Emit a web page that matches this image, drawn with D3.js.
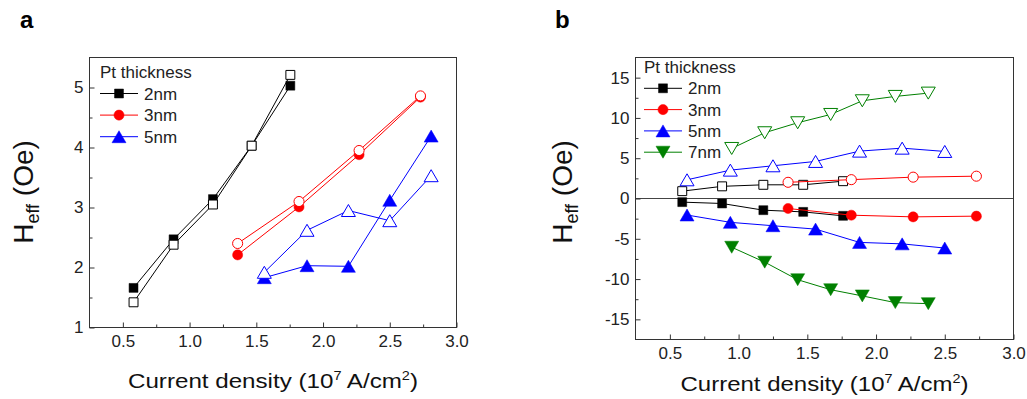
<!DOCTYPE html>
<html>
<head>
<meta charset="utf-8">
<script src="https://cdn.jsdelivr.net/npm/d3@7"></script>
<style>
  html, body { margin: 0; padding: 0; background: #fff; }
  svg { display: block; font-family: "Liberation Sans", Arial, sans-serif; }
</style>
</head>
<body>
<svg id="chart" width="1027" height="399"></svg>
<script>
// ---------- Panel a data ----------
const aX2 = [0.58, 0.88, 1.175, 1.465, 1.755];
const a2Fill = [1.66, 2.47, 3.14, 4.03, 5.03];
const a2Open = [1.42, 2.38, 3.05, 4.03, 5.21];
const aX3 = [1.36, 1.82, 2.27, 2.73];
const a3Fill = [2.21, 3.01, 3.88, 4.84];
const a3Open = [2.40, 3.10, 3.95, 4.86];
const aX5 = [1.56, 1.88, 2.19, 2.50, 2.81];
const a5Fill = [1.83, 2.03, 2.02, 3.12, 4.19];
const a5Open = [1.92, 2.62, 2.95, 2.78, 3.53];

// ---------- Panel b data ----------
const bX2 = [0.59, 0.88, 1.18, 1.47, 1.76];
const b2Fill = [-0.45, -0.62, -1.45, -1.66, -2.15];
const b2Open = [0.91, 1.51, 1.70, 1.70, 2.15];
const bX3 = [1.36, 1.82, 2.27, 2.73];
const b3Fill = [-1.24, -2.07, -2.28, -2.19];
const b3Open = [2.01, 2.34, 2.65, 2.77];
const bX5 = [0.625, 0.94, 1.25, 1.56, 1.88, 2.19, 2.50];
const b5Fill = [-2.05, -2.96, -3.38, -3.80, -5.45, -5.63, -6.15];
const b5Open = [2.32, 3.52, 4.06, 4.60, 5.88, 6.25, 5.84];
const bX7 = [0.95, 1.19, 1.43, 1.67, 1.90, 2.14, 2.38];
const b7Fill = [-6.05, -7.90, -10.08, -11.32, -12.09, -12.92, -13.05];
const b7Open = [6.21, 8.16, 9.40, 10.43, 12.13, 12.67, 13.08];

// ---------- tick labels ----------
const xTicks = [0.5, 1.0, 1.5, 2.0, 2.5, 3.0];
const xMinor = [0.75, 1.25, 1.75, 2.25, 2.75];
const aYTicks = [1, 2, 3, 4, 5];
const aYMinor = [1.5, 2.5, 3.5, 4.5];
const bYTicks = [-15, -10, -5, 0, 5, 10, 15];
const bYMinor = [-12.5, -7.5, -2.5, 2.5, 7.5, 12.5];
const aLegend = ["2nm", "3nm", "5nm"];
const bLegend = ["2nm", "3nm", "5nm", "7nm"];

const COL = { k: "#000000", r: "#ff0000", b: "#0000ff", g: "#008000" };
const FONT = '"Liberation Sans", Arial, sans-serif';

// custom triangles centred on their bounding box
const triUp = { draw(ctx, size) { const s = Math.sqrt(size); const w = s * 0.7, h = s * 0.6;
  ctx.moveTo(0, -h); ctx.lineTo(w, h); ctx.lineTo(-w, h); ctx.closePath(); } };
const triDown = { draw(ctx, size) { const s = Math.sqrt(size); const w = s * 0.7, h = s * 0.6;
  ctx.moveTo(0, h); ctx.lineTo(w, -h); ctx.lineTo(-w, -h); ctx.closePath(); } };

const SHAPES = {
  square: { type: d3.symbolSquare, size: 80 },
  circle: { type: d3.symbolCircle, size: 80 },
  up: { type: triUp, size: 100 },
  down: { type: triDown, size: 100 }
};

const svg = d3.select("#chart");

function panel(cfg) {
  const g = svg.append("g");
  const x = d3.scaleLinear().domain([0.25, 3.0]).range([cfg.x0, cfg.x1]);
  const y = d3.scaleLinear().domain(cfg.yDomain).range([cfg.y1, cfg.y0]);

  // zero line
  if (cfg.zeroLine) {
    g.append("line").attr("x1", cfg.x0).attr("x2", cfg.x1)
      .attr("y1", y(0)).attr("y2", y(0))
      .attr("stroke", "#444").attr("stroke-width", 1);
  }

  // axes
  const styleAxis = sel => {
    sel.select(".domain").remove();
    sel.selectAll("line").attr("stroke", "#333");
    sel.selectAll("text").attr("font-family", FONT).attr("font-size", 17).attr("fill", "#222");
  };
  g.append("g").attr("transform", `translate(0,${cfg.y1})`)
    .call(d3.axisBottom(x).tickValues(xTicks).tickSize(-5).tickPadding(7).tickFormat(d3.format(".1f")))
    .call(styleAxis);
  g.append("g").attr("transform", `translate(0,${cfg.y1})`)
    .call(d3.axisBottom(x).tickValues(xMinor).tickSize(-3).tickFormat(""))
    .call(styleAxis);
  g.append("g").attr("transform", `translate(${cfg.x0},0)`)
    .call(d3.axisLeft(y).tickValues(cfg.yTicks).tickSize(-5).tickPadding(6).tickFormat(d => String(d)))
    .call(styleAxis);
  g.append("g").attr("transform", `translate(${cfg.x0},0)`)
    .call(d3.axisLeft(y).tickValues(cfg.yMinor).tickSize(-3).tickFormat(""))
    .call(styleAxis);

  // frame
  g.append("rect").attr("x", cfg.x0).attr("y", cfg.y0)
    .attr("width", cfg.x1 - cfg.x0).attr("height", cfg.y1 - cfg.y0)
    .attr("fill", "none").attr("stroke", "#333").attr("stroke-width", 1);

  // series
  const line = d3.line().x(d => x(d[0])).y(d => y(d[1]));
  cfg.series.forEach(s => {
    const pts = s.xs.map((xv, i) => [xv, s.ys[i]]);
    g.append("path").datum(pts).attr("d", line)
      .attr("fill", "none").attr("stroke", s.color).attr("stroke-width", 1);
    const sh = SHAPES[s.shape];
    g.selectAll(null).data(pts).enter().append("path")
      .attr("transform", d => `translate(${x(d[0])},${y(d[1])})`)
      .attr("d", d3.symbol().type(sh.type).size(sh.size))
      .attr("fill", s.open ? "#fff" : s.color)
      .attr("stroke", s.color).attr("stroke-width", s.open ? 1 : 0.5);
  });

  // legend
  const L = cfg.legend;
  g.append("text").attr("x", L.x).attr("y", L.titleY).attr("dy", "0.35em")
    .attr("font-size", 17).attr("fill", "#222").text("Pt thickness");
  L.items.forEach((it, i) => {
    const yy = L.rowY + i * L.step;
    g.append("line").attr("x1", L.x).attr("x2", L.x + 38).attr("y1", yy).attr("y2", yy)
      .attr("stroke", it.color).attr("stroke-width", 1);
    const sh = SHAPES[it.shape];
    g.append("path").attr("transform", `translate(${L.x + 19},${yy})`)
      .attr("d", d3.symbol().type(sh.type).size(sh.size))
      .attr("fill", it.color).attr("stroke", it.color).attr("stroke-width", 0.5);
    g.append("text").attr("x", L.x + 44).attr("y", yy).attr("dy", "0.36em")
      .attr("font-size", 17).attr("fill", "#222").text(it.label);
  });

  // x title
  const xt = g.append("text").attr("x", (cfg.x0 + cfg.x1) / 2).attr("y", cfg.xTitleY)
    .attr("text-anchor", "middle").attr("font-size", 20).attr("fill", "#111")
    .attr("textLength", cfg.xTitleLen).attr("lengthAdjust", "spacingAndGlyphs");
  xt.append("tspan").text("Current density (10");
  xt.append("tspan").attr("font-size", 12).attr("dy", -8).text("7");
  xt.append("tspan").attr("dy", 8).text(" A/cm");
  xt.append("tspan").attr("font-size", 12).attr("dy", -8).text("2");
  xt.append("tspan").attr("dy", 8).text(")");

  // y title
  const yt = g.append("text")
    .attr("transform", `translate(${cfg.yTitleX},${cfg.yTitleCY}) rotate(-90)`)
    .attr("text-anchor", "middle").attr("font-size", 28).attr("fill", "#111");
  yt.append("tspan").text("H");
  yt.append("tspan").attr("font-size", 18).attr("dy", 6).text("eff");
  yt.append("tspan").attr("dy", -6).text(" (Oe)");

  // panel label
  g.append("text").attr("x", cfg.labelX).attr("y", 28)
    .attr("font-size", 24).attr("font-weight", "bold").attr("fill", "#000").text(cfg.label);
}

panel({
  x0: 89.5, x1: 456.5, y0: 57.5, y1: 327.5,
  yDomain: [1, 5.5], yTicks: aYTicks, yMinor: aYMinor, zeroLine: false,
  series: [
    { xs: aX2, ys: a2Fill, color: COL.k, shape: "square", open: false },
    { xs: aX2, ys: a2Open, color: COL.k, shape: "square", open: true },
    { xs: aX3, ys: a3Fill, color: COL.r, shape: "circle", open: false },
    { xs: aX3, ys: a3Open, color: COL.r, shape: "circle", open: true },
    { xs: aX5, ys: a5Fill, color: COL.b, shape: "up", open: false },
    { xs: aX5, ys: a5Open, color: COL.b, shape: "up", open: true }
  ],
  legend: { x: 100, titleY: 72, rowY: 93.5, step: 21.6,
    items: [
      { label: aLegend[0], color: COL.k, shape: "square" },
      { label: aLegend[1], color: COL.r, shape: "circle" },
      { label: aLegend[2], color: COL.b, shape: "up" }
    ] },
  xTitleY: 388, xTitleLen: 290, yTitleX: 33, yTitleCY: 192,
  label: "a", labelX: 20
});

panel({
  x0: 635.5, x1: 1013.5, y0: 57.5, y1: 339.5,
  yDomain: [-17.5, 17.5], yTicks: bYTicks, yMinor: bYMinor, zeroLine: true,
  series: [
    { xs: bX2, ys: b2Fill, color: COL.k, shape: "square", open: false },
    { xs: bX2, ys: b2Open, color: COL.k, shape: "square", open: true },
    { xs: bX3, ys: b3Fill, color: COL.r, shape: "circle", open: false },
    { xs: bX3, ys: b3Open, color: COL.r, shape: "circle", open: true },
    { xs: bX5, ys: b5Fill, color: COL.b, shape: "up", open: false },
    { xs: bX5, ys: b5Open, color: COL.b, shape: "up", open: true },
    { xs: bX7, ys: b7Fill, color: COL.g, shape: "down", open: false },
    { xs: bX7, ys: b7Open, color: COL.g, shape: "down", open: true }
  ],
  legend: { x: 644, titleY: 67, rowY: 88.3, step: 21.3,
    items: [
      { label: bLegend[0], color: COL.k, shape: "square" },
      { label: bLegend[1], color: COL.r, shape: "circle" },
      { label: bLegend[2], color: COL.b, shape: "up" },
      { label: bLegend[3], color: COL.g, shape: "down" }
    ] },
  xTitleY: 391, xTitleLen: 288, yTitleX: 572, yTitleCY: 192,
  label: "b", labelX: 555
});
</script>
</body>
</html>
